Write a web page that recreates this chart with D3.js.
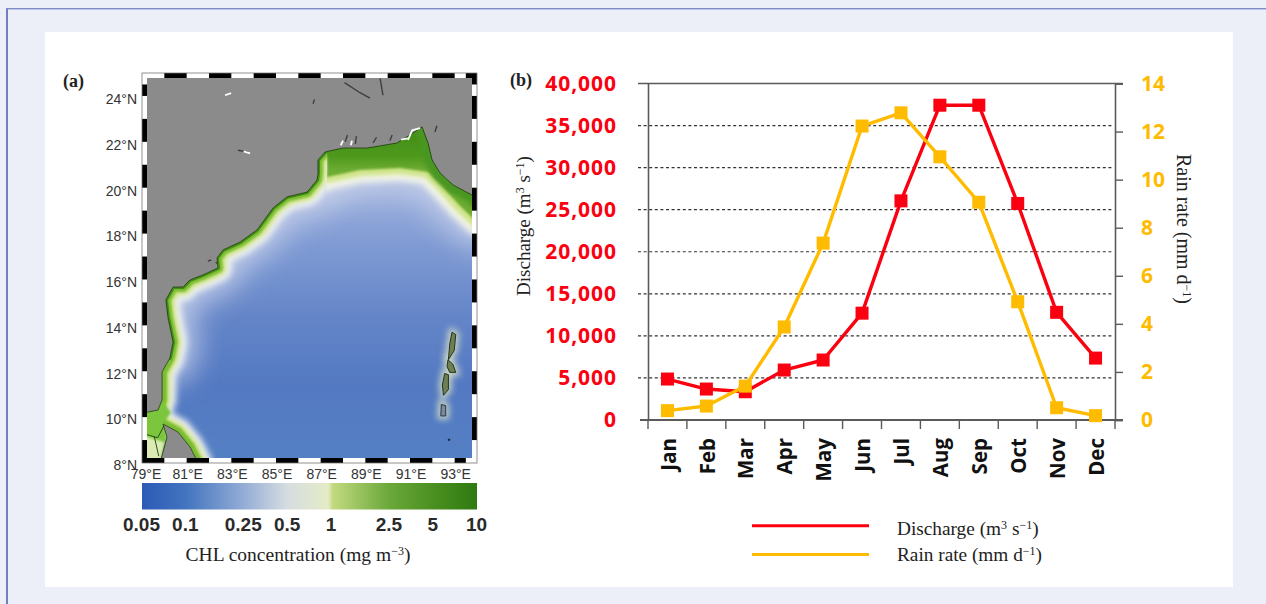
<!DOCTYPE html>
<html><head><meta charset="utf-8">
<script src="https://cdn.jsdelivr.net/npm/d3@7"></script>
<style>html,body{margin:0;padding:0;background:#eceff8;overflow:hidden}svg{display:block}</style>
</head><body><svg id="c" width="1266" height="604"></svg>
<script>
// ---- data ----
const months=["Jan","Feb","Mar","Apr","May","Jun","Jul","Aug","Sep","Oct","Nov","Dec"];
const discharge=[4870,3680,3360,5940,7130,12700,26050,37420,37420,25740,12800,7360];
const rainRate=[0.39,0.58,1.41,3.87,7.36,12.23,12.78,10.95,9.06,4.92,0.51,0.18];
const dischargeTicks=[0,5000,10000,15000,20000,25000,30000,35000,40000];
const rainTicks=[0,2,4,6,8,10,12,14];
const lonTicks=[79,81,83,85,87,89,91,93];
const latTicks=[8,10,12,14,16,18,20,22,24];
const chlTicks=[0.05,0.1,0.25,0.5,1,2.5,5,10];
const chlColorValues=[0.05,0.1,0.25,0.5,0.95,1.02,2.5,5,10];
const chlColors=["#2b5ab6","#4274bf","#94add6","#d6dde0","#e4ebc6","#c3da80","#6aa83a","#4a9020","#2f7a10"];
const coast=[[81.51,8],[81.15,8.7],[80.61,9.35],[79.94,9.7],[80.12,9.13],[79.81,8],[79,8],[79,10.27],[79.27,10.22],[79.72,10.31],[79.9,10.75],[79.9,11.97],[80.25,12.58],[80.39,13.27],[80.16,14.36],[80.07,15.11],[80.39,15.67],[80.84,15.67],[81.15,15.98],[81.73,16.2],[82.4,16.5],[82.36,16.94],[82.63,17.29],[83.39,17.63],[84.15,18.16],[84.87,19.12],[85.49,19.6],[86.39,19.81],[86.84,20.34],[86.88,20.64],[86.88,21.21],[87.2,21.56],[88,21.73],[89.08,21.73],[90.42,21.95],[91.14,22.39],[91.54,22.65],[91.81,21.95],[91.99,21.21],[92.35,20.64],[92.93,20.12],[93.78,19.68],[94,19.46]];
const seaCorners=[[94,8]];
const shelf=[[87.28,21.98],[91.76,22.95],[92.35,21.21],[94,19.68],[94,18.51],[93.24,19.2],[92.43,20.07],[91.81,20.69],[90.55,20.86],[88.76,20.77],[87.28,20.47]];
const shelfEdge=[[87.28,20.47],[88.76,20.77],[90.55,20.86],[91.81,20.69],[92.43,20.07],[93.24,19.2],[94,18.51]];
const palk=[[79,8],[79.81,8],[80.12,9.13],[79.94,9.7],[80.3,10.2],[79.9,10.75],[79.72,10.31],[79,10.27]];
const palkPale=[[79,8],[79.8,8],[80,8.9],[79,9.2]];
const palkLines=[[[79,9.3],[79.7,9.1],[80,9.65]],[[79.55,9.15],[79.75,8.3]]];
const andaman=[[[92.88,13.7],[93.05,13.6],[92.98,12.9],[92.72,12.5],[92.78,13.2]],[[92.7,12.5],[92.92,12.3],[93.05,11.95],[92.78,11.95],[92.66,12.2]],[[92.55,11.9],[92.72,11.85],[92.72,11.2],[92.5,10.95],[92.45,11.4]]];
const littleAndaman=[[92.4,10.55],[92.6,10.5],[92.6,10.05],[92.38,10.05]];
const darkMarks=[[[88.07,24.58],[88.76,24.14],[89.21,23.9]],[[89.66,24.77],[89.79,24.03]],[[86.66,23.66],[86.72,23.85]],[[92.12,22.43],[92.2,22.7]],[[83.3,21.63],[83.75,21.55]],[[88.1,22.0],[88.2,22.3]],[[88.55,21.9],[88.6,22.25]],[[89.35,21.95],[89.5,22.2]],[[90.1,22.05],[90.2,22.3]],[[81.95,16.8],[82.1,16.85]],[[82.6,16.55],[82.3,16.75]],[[92.7,9.0],[92.8,9.02]]];
const whiteMarks=[[[82.72,24.03],[82.99,24.12]],[[83.55,21.58],[83.84,21.5]],[[90.91,22.08],[91.1,22.5],[91.45,22.6]],[[90.6,22.1],[90.9,22.15]],[[87.9,21.85],[88.0,22.05]],[[88.35,21.85],[88.4,22.05]]];

// ---- page ----
const svg=d3.select("#c");
const defs=svg.append("defs");
svg.append("rect").attr("width",1266).attr("height",604).attr("fill","#eceff8");
svg.append("rect").attr("x",6).attr("y",8).attr("width",2).attr("height",596).attr("fill","#6f7fbf");
svg.append("rect").attr("x",6).attr("y",8).attr("width",1260).attr("height",1.4).attr("fill","#7d8cc6");
svg.append("rect").attr("x",45).attr("y",32).attr("width",1188).attr("height",555).attr("fill","#fff");
const serif="'Liberation Serif',serif", sans="'Liberation Sans',Arial,sans-serif", bold="'Open Sans',sans-serif";
const RED="#fb0010", GOLD="#ffbb00";

function blur(id,s){defs.append("filter").attr("id",id).attr("filterUnits","userSpaceOnUse").attr("x",0).attr("y",0).attr("width",1266).attr("height",604)
  .append("feGaussianBlur").attr("stdDeviation",s);}
blur("b05",0.5);blur("b06",0.6);blur("b1",1);blur("b2",2);blur("b3",3);blur("b14",14);

// ---- map ----
const lon=d3.scaleLinear().domain([79,94]).range([142,477]);
const lat=d3.scaleLinear().domain([8,25]).range([463,73]);
const line=d3.line().x(d=>lon(d[0])).y(d=>lat(d[1]));
const closed=d3.line().x(d=>lon(d[0])).y(d=>lat(d[1])).curve(d3.curveLinearClosed);

defs.append("clipPath").attr("id","mapClip").append("rect").attr("x",lon(79)).attr("y",lat(25)).attr("width",lon(94)-lon(79)).attr("height",lat(8)-lat(25));
defs.append("clipPath").attr("id","seaClip").append("path").attr("d",closed(coast.concat(seaCorners)));
defs.append("clipPath").attr("id","shelfClip").append("rect").attr("x",lon(87.28)).attr("y",lat(25)).attr("width",lon(94)-lon(87.28)).attr("height",lat(8)-lat(25));
const seaGrad=defs.append("linearGradient").attr("id","seaGrad").attr("x1",0).attr("x2",0).attr("y1",0).attr("y2",1);
[[0.3,"#9cb0dd"],[0.45,"#7e9ad3"],[0.62,"#6586c8"],[0.8,"#5379c2"],[1,"#5480c4"]].forEach(s=>seaGrad.append("stop").attr("offset",s[0]).attr("stop-color",s[1]));
const shelfGrad=defs.append("linearGradient").attr("id","shelfGrad").attr("gradientUnits","userSpaceOnUse").attr("x1",0).attr("x2",0).attr("y1",lat(22.6)).attr("y2",lat(20.8));
[[0,"#3f8c14"],[0.7,"#4f9a1e"],[1,"#6cab32"]].forEach(s=>shelfGrad.append("stop").attr("offset",s[0]).attr("stop-color",s[1]));

const mapOuter=svg.append("g").attr("clip-path","url(#mapClip)");
const map=mapOuter.append("g").attr("filter","url(#b05)");
map.append("rect").attr("x",lon(79)).attr("y",lat(25)).attr("width",lon(94)-lon(79)).attr("height",lat(8)-lat(25)).attr("fill","#8c8b8b");
darkMarks.slice(0,-1).forEach(m=>map.append("path").attr("d",line(m)).attr("fill","none").attr("stroke","#2c2c2c").attr("stroke-width",1.4).attr("opacity",.8).attr("filter","url(#b06)"));

const coastBand=coast.slice(0,4).concat(coast.slice(8));
const sea=map.append("g").attr("clip-path","url(#seaClip)");
sea.append("rect").attr("x",lon(79)).attr("y",lat(25)).attr("width",lon(94)-lon(79)).attr("height",lat(8)-lat(25)).attr("fill","url(#seaGrad)");
const stroke=(g,pts,c,w,f,o)=>g.append("path").attr("d",line(pts)).attr("fill","none").attr("stroke",c).attr("stroke-width",w).attr("stroke-linejoin","round").attr("stroke-linecap","round").attr("opacity",o||1).attr("filter",f?`url(#${f})`:null);
stroke(sea,coastBand.slice(8,30),"#c3cde8",50,"b14",.9);
stroke(sea,shelfEdge,"#c3cde8",50,"b14",.9);
stroke(sea,coastBand,"#eef1f0",28,"b3");
stroke(sea,coastBand,"#cfe488",17,"b2");
stroke(sea,coastBand,"#7abd30",10,"b1");
stroke(sea,coastBand.slice(8),"#3f8c14",4,"b06");
const sh=sea.append("g").attr("clip-path","url(#shelfClip)");
stroke(sh,shelfEdge,"#f3f4e8",26,"b3");
stroke(sh,shelfEdge,"#cfe488",12,"b2");
sh.append("path").attr("d",closed(shelf)).attr("fill","url(#shelfGrad)").attr("filter","url(#b1)");
stroke(sh,coast.slice(36),"#4a9620",16,"b2");
sea.append("path").attr("d",closed(palk)).attr("fill","#7cc63e").attr("filter","url(#b1)");
sea.append("path").attr("d",closed(palkPale)).attr("fill","#dcebb4").attr("filter","url(#b1)");
palkLines.forEach(m=>sea.append("path").attr("d",line(m)).attr("fill","none").attr("stroke","#27501a").attr("stroke-width",1));
andaman.concat([littleAndaman]).forEach(p=>sea.append("path").attr("d",closed(p)).attr("fill","none").attr("stroke","#eef2c8").attr("stroke-width",7).attr("opacity",.7).attr("filter","url(#b3)"));
andaman.forEach(p=>map.append("path").attr("d",closed(p)).attr("fill","#6d7f52").attr("stroke","#26331c").attr("stroke-width",1).attr("filter","url(#b06)"));
map.append("path").attr("d",closed(littleAndaman)).attr("fill","#7c8aa0").attr("stroke","#2c3440").attr("stroke-width",1);
map.append("path").attr("d",line(coast.slice(0,-1))).attr("fill","none").attr("stroke","#1e3512").attr("stroke-width",1).attr("opacity",.8).attr("filter","url(#b06)");
whiteMarks.forEach(m=>map.append("path").attr("d",line(m)).attr("fill","none").attr("stroke","#fff").attr("stroke-width",1.8).attr("filter","url(#b06)"));
darkMarks.slice(-1).forEach(m=>map.append("path").attr("d",line(m)).attr("fill","none").attr("stroke","#1d2a44").attr("stroke-width",2));

// checkered frame
const frame=svg.append("g");
const band=5;
const edge=(a,b,side,color)=>{
  if(side==="top"||side==="bottom") frame.append("rect").attr("x",lon(a)).attr("width",lon(b)-lon(a)).attr("y",side==="top"?lat(25):lat(8)-band).attr("height",band).attr("fill",color);
  else frame.append("rect").attr("y",lat(b)).attr("height",lat(a)-lat(b)).attr("x",side==="left"?lon(79):lon(94)-band).attr("width",band).attr("fill",color);
};
["top","bottom"].forEach(s=>edge(79,94,s,"#fff"));["left","right"].forEach(s=>edge(8,25,s,"#fff"));
d3.range(79,93,1).forEach(k=>{ if(k%2===0) edge(k,k+1,"top","#000"); else edge(k,k+1,"bottom","#000"); });
edge(93.5,94,"top","#000"); edge(93,93.5,"bottom","#000");
d3.range(8,24,1).forEach(k=>{ if(k%2===0) edge(k,k+1,"left","#000"); else edge(k,k+1,"right","#000"); });
edge(24,24.5,"left","#000"); edge(24.5,25,"right","#000");
frame.append("rect").attr("x",lon(79)).attr("y",lat(25)).attr("width",lon(94)-lon(79)).attr("height",lat(8)-lat(25)).attr("fill","none").attr("stroke","#777").attr("stroke-width",.8);

const latLabel=d3.scaleLinear().domain([8,24]).range([470,104]);
svg.append("g").selectAll("text").data(lonTicks).join("text").attr("x",d=>lon(d)+(d===79?3:0)+1).attr("y",479).attr("text-anchor","middle")
  .attr("font-family",sans).attr("font-size",14).attr("fill","#333").text(d=>d+"°E");
svg.append("g").selectAll("text").data(latTicks).join("text").attr("x",137).attr("y",d=>latLabel(d)).attr("text-anchor","end")
  .attr("font-family",sans).attr("font-size",14).attr("fill","#333").text(d=>d+"°N");

// colour bar
const chl=d3.scaleLog().domain([0.05,10]).range([142,477]);
const cg=defs.append("linearGradient").attr("id","cbar");
chlColorValues.forEach((v,i)=>cg.append("stop").attr("offset",(chl(v)-142)/335).attr("stop-color",chlColors[i]));
svg.append("rect").attr("x",142).attr("y",483).attr("width",335).attr("height",26.5).attr("fill","url(#cbar)");
const cbAxis=d3.axisBottom(chl).tickValues(chlTicks).tickSize(0).tickPadding(0).tickFormat(d=>String(d));
const cb=svg.append("g").attr("transform","translate(0,509)").call(cbAxis);
cb.select(".domain").remove();
cb.selectAll("text").attr("x",-1).attr("y",22).attr("dy",0).attr("font-size",19).attr("font-weight",700).attr("fill","#2a2a2a").attr("style","font-family:"+sans);
svg.append("text").attr("x",298).attr("y",561).attr("text-anchor","middle").attr("font-family",serif).attr("font-size",19.5).attr("fill","#222")
  .html('CHL concentration (mg m<tspan dy="-6" font-size="12">−3</tspan><tspan dy="6">)</tspan>');
svg.append("text").attr("x",63).attr("y",87).attr("font-family",serif).attr("font-size",18).attr("font-weight",700).attr("fill","#222").text("(a)");

// ---- line chart ----
const x=d3.scaleBand().domain(months).range([648,1115]);
const yL=d3.scaleLinear().domain([0,40000]).range([420,83.5]);
const yR=d3.scaleLinear().domain([0,14]).range([420,83.5]);
const axisColor="#5a5a5a";
const grid=svg.append("g");
grid.selectAll("line").data(dischargeTicks.slice(1,-1)).join("line").attr("x1",638).attr("x2",1113).attr("y1",d=>yL(d)).attr("y2",d=>yL(d))
  .attr("stroke","#333").attr("stroke-width",1.2).attr("stroke-dasharray","3 2.6");
const styleAxis=g=>{g.select(".domain").attr("stroke",axisColor).attr("stroke-width",1.6);g.selectAll(".tick line").attr("stroke",axisColor).attr("stroke-width",1.4);};
const fmt=d3.format(",");
const aL=svg.append("g").attr("transform","translate(648,0)").call(d3.axisLeft(yL).tickValues(dischargeTicks).tickSize(0).tickPadding(31).tickFormat(fmt));
aL.select(".domain").attr("stroke",axisColor).attr("stroke-width",1.6);
aL.selectAll("text").attr("style",`font-family:${bold}`).attr("font-size",21).attr("font-weight",700).attr("fill",RED).attr("letter-spacing",.95);
const aR=svg.append("g").attr("transform","translate(1115,0)").call(d3.axisRight(yR).tickValues(rainTicks).tickSize(8).tickPadding(18).tickFormat(d=>String(d)));
styleAxis(aR);
aR.selectAll("text").attr("style",`font-family:${bold}`).attr("font-size",21).attr("font-weight",700).attr("fill",GOLD);
svg.append("line").attr("x1",638).attr("x2",1123).attr("y1",yL(40000)).attr("y2",yL(40000)).attr("stroke",axisColor).attr("stroke-width",1.6);
svg.append("line").attr("x1",640).attr("x2",1123).attr("y1",420).attr("y2",420).attr("stroke",axisColor).attr("stroke-width",1.8);
svg.append("g").selectAll("line").data(d3.range(0,13)).join("line").attr("x1",d=>648+d*x.bandwidth()).attr("x2",d=>648+d*x.bandwidth()).attr("y1",420).attr("y2",429).attr("stroke",axisColor).attr("stroke-width",1.4);
const aX=svg.append("g").attr("transform","translate(0,420)").call(d3.axisBottom(x).tickSize(0).tickPadding(0));
aX.select(".domain").remove();
aX.selectAll("text").attr("transform",`translate(1,18) rotate(-90)`).attr("text-anchor","end").attr("dy","0.35em").attr("y",0).attr("x",0)
  .attr("style",`font-family:${bold}`).attr("font-size",20.5).attr("font-weight",700).attr("fill","#111");

const series=[{v:discharge,y:yL,c:RED},{v:rainRate,y:yR,c:GOLD}];
series.forEach(s=>{
  const px=(d,i)=>x(months[i])+x.bandwidth()/2;
  svg.append("path").attr("d",d3.line().x(px).y(d=>s.y(d))(s.v)).attr("fill","none").attr("stroke",s.c).attr("stroke-width",3.4).attr("stroke-linejoin","round");
  svg.append("g").selectAll("rect").data(s.v).join("rect").attr("x",(d,i)=>px(d,i)-6.5).attr("y",d=>s.y(d)-6.5).attr("width",13).attr("height",13).attr("fill",s.c);
});
svg.append("text").attr("transform","translate(530,226) rotate(-90)").attr("text-anchor","middle").attr("font-family",serif).attr("font-size",19).attr("fill","#222")
  .html('Discharge (m<tspan dy="-6" font-size="12">3</tspan><tspan dy="6"> s</tspan><tspan dy="-6" font-size="12">−1</tspan><tspan dy="6">)</tspan>');
svg.append("text").attr("transform","translate(1177,229) rotate(90)").attr("text-anchor","middle").attr("font-family",serif).attr("font-size",20).attr("fill","#222")
  .html('Rain rate (mm d<tspan dy="-6" font-size="12">−1</tspan><tspan dy="6">)</tspan>');
svg.append("text").attr("x",510).attr("y",86).attr("font-family",serif).attr("font-size",18).attr("font-weight",700).attr("fill","#222").text("(b)");

// legend
const legend=[{c:RED,y:525.7,t:'Discharge (m<tspan dy="-6" font-size="12">3</tspan><tspan dy="6"> s</tspan><tspan dy="-6" font-size="12">−1</tspan><tspan dy="6">)</tspan>'},
 {c:GOLD,y:554.5,t:'Rain rate (mm d<tspan dy="-6" font-size="12">−1</tspan><tspan dy="6">)</tspan>'}];
legend.forEach((l,i)=>{
  svg.append("line").attr("x1",752).attr("x2",869).attr("y1",l.y).attr("y2",l.y).attr("stroke",l.c).attr("stroke-width",3);
  svg.append("text").attr("x",897).attr("y",i?561:535).attr("font-family",serif).attr("font-size",19.3).attr("fill","#222").html(l.t);
});
</script></body></html>
